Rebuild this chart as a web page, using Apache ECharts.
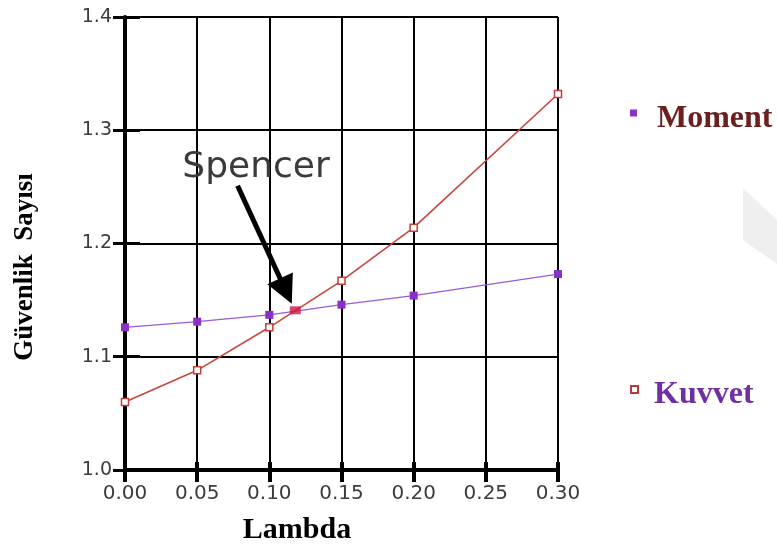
<!DOCTYPE html>
<html>
<head>
<meta charset="utf-8">
<script src="https://cdn.jsdelivr.net/npm/echarts@6/dist/echarts.min.js"></script>
<style>
  html, body { margin: 0; padding: 0; background: #fff; }
  #chart { width: 777px; height: 549px; }
</style>
</head>
<body>
<div id="chart"></div>
<script>
  // 数据
  const lambdaVals = [0.00, 0.05, 0.10, 0.15, 0.20, 0.30]
  const momentVals = [1.126, 1.131, 1.137, 1.146, 1.154, 1.173]
  const kuvvetVals = [1.060, 1.088, 1.126, 1.167, 1.214, 1.332]
  const spencerPoint = [0.118, 1.141]
  // 箭头 (数据坐标)
  const arrowFrom = [0.078, 1.251]
  const arrowTo = [0.1115, 1.158]
  const xTicks = ['0.00', '0.05', '0.10', '0.15', '0.20', '0.25', '0.30']
  const yTicks = ['1.0', '1.1', '1.2', '1.3', '1.4']

  const chart = echarts.init(document.getElementById('chart'))

  const serif = 'Liberation Serif, Times New Roman, serif'
  const sans = 'DejaVu Sans, sans-serif'

  const toPairs = (ys) => lambdaVals.map((x, i) => [x, ys[i]])

  const options = {
    animation: false,
    grid: { left: 125, right: 219, top: 17, bottom: 79 },
    xAxis: [
      {
        type: 'value', min: 0, max: 0.3, interval: 0.05,
        axisLine: { lineStyle: { color: '#000', width: 4 } },
        axisTick: { show: true, length: 12, lineStyle: { color: '#000', width: 4 } },
        axisLabel: {
          margin: 14, color: '#3c3c3c', fontFamily: sans, fontSize: 20,
          formatter: (v) => xTicks[Math.round(v / 0.05)]
        },
        splitLine: { show: true, lineStyle: { color: '#000', width: 2 } }
      },
      {
        // 内侧刻度
        type: 'value', min: 0, max: 0.3, interval: 0.05, position: 'bottom',
        axisLine: { show: false },
        axisTick: { show: true, inside: true, length: 8, lineStyle: { color: '#000', width: 4 } },
        axisLabel: { show: false },
        splitLine: { show: false }
      }
    ],
    yAxis: [
      {
        type: 'value', min: 1.0, max: 1.4, interval: 0.1,
        axisLine: { show: true, lineStyle: { color: '#000', width: 4 } },
        axisTick: { show: true, length: 12, lineStyle: { color: '#000', width: 3 } },
        axisLabel: {
          margin: 13, color: '#3c3c3c', fontFamily: sans, fontSize: 19,
          formatter: (v) => yTicks[Math.round((v - 1.0) / 0.1)]
        },
        splitLine: { show: true, lineStyle: { color: '#000', width: 2 } }
      },
      {
        type: 'value', min: 1.0, max: 1.4, interval: 0.1, position: 'left',
        axisLine: { show: false },
        axisTick: { show: true, inside: true, length: 15, lineStyle: { color: '#000', width: 3 } },
        axisLabel: { show: false },
        splitLine: { show: false }
      }
    ],
    legend: [
      {
        left: 625, top: 86, orient: 'vertical',
        icon: 'rect', itemWidth: 7, itemHeight: 7,
        // 文字比图标略低
        formatter: (name) => '\n' + name,
        textStyle: { fontFamily: serif, fontWeight: 'bold', fontSize: 32, lineHeight: 12, color: '#6b2020', padding: [0, 0, 0, 15] },
        data: [{ name: 'Moment', itemStyle: { color: '#8a2fc8', borderWidth: 0 } }]
      },
      {
        left: 625, top: 363, orient: 'vertical',
        icon: 'rect', itemWidth: 7, itemHeight: 7,
        formatter: (name) => '\n' + name,
        textStyle: { fontFamily: serif, fontWeight: 'bold', fontSize: 32, lineHeight: 11, color: '#7030a0', padding: [0, 0, 0, 11] },
        data: [{ name: 'Kuvvet', itemStyle: { color: '#fff', borderColor: '#b83c3c', borderWidth: 2 } }]
      }
    ],
    series: [
      {
        name: 'Moment', type: 'line', data: toPairs(momentVals),
        symbol: 'rect', symbolSize: 8,
        lineStyle: { color: '#9a5ad8', width: 1.3 },
        itemStyle: { color: '#8a2fc8' },
        z: 3
      },
      {
        name: 'Kuvvet', type: 'line', data: toPairs(kuvvetVals),
        symbol: 'rect', symbolSize: 7,
        lineStyle: { color: '#c8463c', width: 1.6 },
        itemStyle: { color: '#fff', borderColor: '#c0403a', borderWidth: 1.5 },
        z: 4
      },
      {
        name: 'Spencer', type: 'scatter', data: [spencerPoint],
        symbol: 'rect', symbolSize: [11, 8],
        itemStyle: { color: '#cc1845' },
        z: 6,
        markLine: {
          silent: true,
          symbol: ['none', 'triangle'],
          symbolSize: [28, 28],
          label: { show: false },
          lineStyle: { color: '#000', width: 5, type: 'solid' },
          data: [[{ coord: arrowFrom }, { coord: arrowTo }]]
        }
      }
    ],
    graphic: [
      {
        type: 'polygon', silent: true, z: -10,
        shape: { points: [[743, 188], [777, 220], [777, 264], [743, 240]] },
        style: { fill: '#efefef' }
      },
      {
        type: 'text', x: 256, y: 168, z: 10,
        style: { text: 'Spencer', font: '36px ' + sans, fill: '#3a3a3a', textAlign: 'center', textVerticalAlign: 'middle' }
      },
      {
        type: 'text', x: 297, y: 530,
        style: { text: 'Lambda', font: 'bold 30px ' + serif, fill: '#000', textAlign: 'center', textVerticalAlign: 'middle' }
      },
      {
        type: 'text', x: 25, y: 267, rotation: Math.PI / 2,
        style: { text: 'Güvenlik  Sayısı', font: 'bold 27px ' + serif, fill: '#000', textAlign: 'center', textVerticalAlign: 'middle' }
      }
    ]
  }

  chart.setOption(options)
</script>
</body>
</html>
